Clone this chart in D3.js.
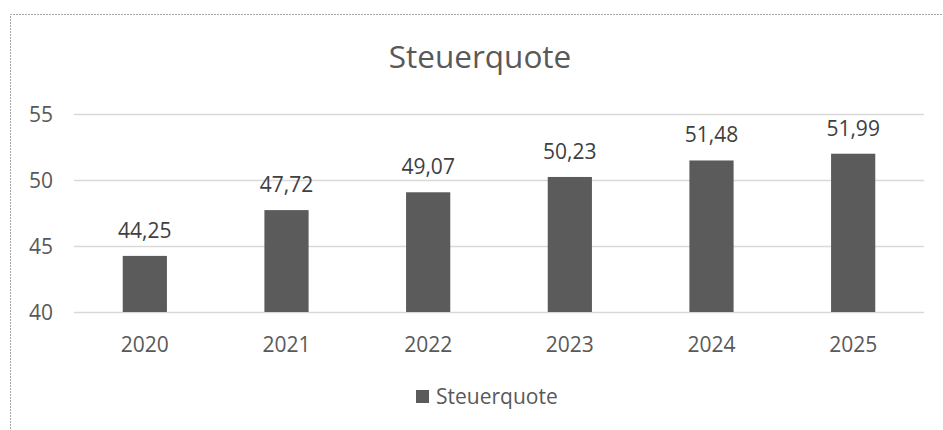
<!DOCTYPE html>
<html>
<head>
<meta charset="utf-8">
<script src="https://cdn.jsdelivr.net/npm/d3@7"></script>
<style>
  html, body { margin: 0; padding: 0; background: #fff; }
  svg { display: block; font-family: "Open Sans", sans-serif; }
</style>
</head>
<body>
<svg id="chart" width="943" height="430"></svg>
<script>
var years = ["2020", "2021", "2022", "2023", "2024", "2025"];
var quote = [44.25, 47.72, 49.07, 50.23, 51.48, 51.99];
var yTicks = [40, 45, 50, 55];
var seriesName = "Steuerquote";

var width = 943, height = 430,
    plotLeft = 74, plotRight = 924, plotTop = 114, plotBottom = 312,
    grey = "#595959", barColor = "#5b5b5b", fs = 21;

var svg = d3.select("#chart");

// chart area frame (dashed, cut at right/bottom)
svg.append("path")
  .attr("d", "M10.5," + (height + 2) + "V14.5H" + (width + 2))
  .attr("fill", "none")
  .attr("stroke", "#a6a6a6")
  .attr("stroke-dasharray", "2,1");

var x = d3.scaleBand().domain(years).range([plotLeft, plotRight]).paddingInner(0.688).paddingOuter(0.344);
var y = d3.scaleLinear().domain([40, 55]).range([plotBottom, plotTop]);

// gridlines
svg.append("g").selectAll("line").data(yTicks).join("line")
  .attr("x1", plotLeft).attr("x2", plotRight)
  .attr("y1", function(d) { return Math.round(y(d)) + 0.5; })
  .attr("y2", function(d) { return Math.round(y(d)) + 0.5; })
  .attr("stroke", "#d9d9d9").attr("stroke-width", 1.3);

// y axis labels
var yAxis = svg.append("g").attr("transform", "translate(" + (plotLeft - 21) + ",0)")
  .call(d3.axisLeft(y).tickValues(yTicks).tickSize(0).tickPadding(0));
yAxis.select(".domain").remove();
yAxis.selectAll("text").attr("fill", grey).attr("font-size", fs)
  .attr("font-family", "Open Sans").attr("dy", "0.36em");

// bars
svg.append("g").selectAll("rect").data(quote).join("rect")
  .attr("x", function(d, i) { return x(years[i]); })
  .attr("width", x.bandwidth())
  .attr("y", function(d) { return y(d); })
  .attr("height", function(d) { return y(40) - y(d); })
  .attr("fill", barColor);

// value labels
svg.append("g").selectAll("text").data(quote).join("text")
  .attr("x", function(d, i) { return x(years[i]) + x.bandwidth() / 2; })
  .attr("y", function(d) { return y(d) - 18; })
  .attr("text-anchor", "middle")
  .attr("fill", "#404040").attr("font-size", fs)
  .text(function(d) { return d3.format(".2f")(d).replace(".", ","); });

// x axis labels
var xAxis = svg.append("g").attr("transform", "translate(0," + plotBottom + ")")
  .call(d3.axisBottom(x).tickSize(0).tickPadding(0));
xAxis.select(".domain").remove();
xAxis.selectAll("text").attr("fill", grey).attr("font-size", fs)
  .attr("font-family", "Open Sans").attr("dy", null).attr("y", 40);

// title
svg.append("text")
  .attr("x", 480).attr("y", 68)
  .attr("text-anchor", "middle")
  .attr("fill", grey).attr("font-size", 31.5)
  .text(seriesName);

// legend
var lg = svg.append("g").attr("transform", "translate(416,390)");
lg.append("rect").attr("width", 13).attr("height", 13).attr("fill", barColor);
lg.append("text").attr("x", 20).attr("y", 14)
  .attr("fill", grey).attr("font-size", fs)
  .text(seriesName);
</script>
</body>
</html>
